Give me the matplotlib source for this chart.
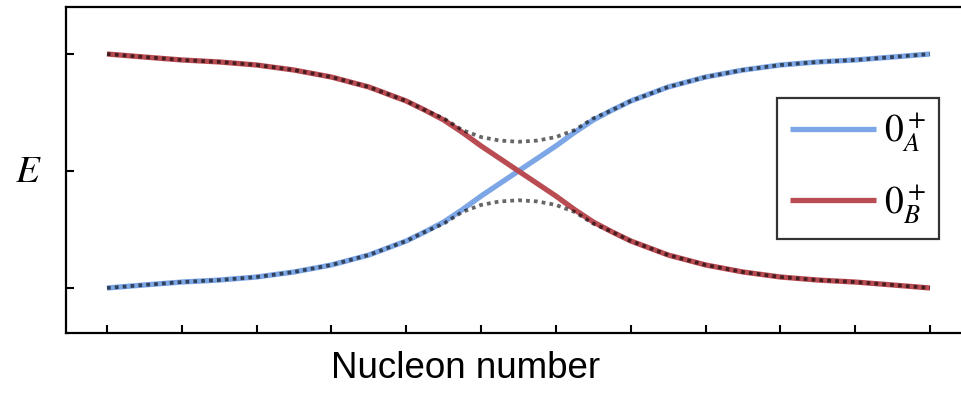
import matplotlib.pyplot as plt
import numpy as np

plt.rcParams["mathtext.fontset"] = "stix"

# nucleon number axis (arbitrary units, one per tick)
nucleon = [0, 0.5, 1, 1.5, 2, 2.5, 3, 3.5, 4, 4.25, 4.5, 4.75, 5, 5.25, 5.5,
           5.75, 6, 6.25, 6.5, 6.75, 7, 7.5, 8, 8.5, 9, 9.5, 10, 10.5, 11]

# diabatic (unmixed) 0+ states
energy_A = [-1.0, -0.974, -0.949, -0.932, -0.906, -0.863, -0.803, -0.718, -0.598,
            -0.52, -0.436, -0.33, -0.214, -0.107, 0.0, 0.107, 0.214, 0.33, 0.436,
            0.52, 0.598, 0.718, 0.803, 0.863, 0.906, 0.932, 0.949, 0.974, 1.0]
energy_B = [1.0, 0.974, 0.949, 0.932, 0.906, 0.863, 0.803, 0.718, 0.598,
            0.52, 0.436, 0.33, 0.214, 0.107, 0.0, -0.107, -0.214, -0.33, -0.436,
            -0.52, -0.598, -0.718, -0.803, -0.863, -0.906, -0.932, -0.949, -0.974, -1.0]

# adiabatic (mixed) states with the avoided crossing
energy_upper = [1.0, 0.974, 0.949, 0.932, 0.906, 0.863, 0.803, 0.718, 0.598,
                0.52, 0.45, 0.35, 0.29, 0.26, 0.25, 0.26, 0.29, 0.35, 0.45,
                0.52, 0.598, 0.718, 0.803, 0.863, 0.906, 0.932, 0.949, 0.974, 1.0]
energy_lower = [-1.0, -0.974, -0.949, -0.932, -0.906, -0.863, -0.803, -0.718, -0.598,
                -0.52, -0.45, -0.35, -0.29, -0.26, -0.25, -0.26, -0.29, -0.35, -0.45,
                -0.52, -0.598, -0.718, -0.803, -0.863, -0.906, -0.932, -0.949, -0.974, -1.0]

BLUE = "#7ca6e6"
RED = "#b94c52"

fig = plt.figure(figsize=(9.61, 3.96), dpi=100)
ax = fig.add_axes([66 / 961, 63 / 396, 910 / 961, 326 / 396])

ax.plot(nucleon, energy_A, color=BLUE, lw=3.8, solid_capstyle="butt", label=r"$0^+_A$")
ax.plot(nucleon, energy_B, color=RED, lw=3.8, solid_capstyle="butt", label=r"$0^+_B$")
for adiabatic in (energy_upper, energy_lower):
    ax.plot(nucleon, adiabatic, color="black", alpha=0.6, lw=2.7, ls=(0, (1, 1.1)))

ax.set_xlim(-0.548, 11 + 46 / 74.8)
ax.set_ylim(-1 - 45 / 117, 1 + 47 / 117)
ax.set_xticks(np.arange(0, 12))
ax.set_yticks([-1, 0, 1])
ax.set_xticklabels([])
ax.set_yticklabels([])
ax.tick_params(direction="in", length=6, width=1.5, color="black")
for s in ax.spines.values():
    s.set_linewidth(1.6)

fig.text(42 / 961, 1 - 171 / 396, r"$E$", fontsize=28, ha="right", va="center")
fig.text(466 / 961, 1 - 368 / 396, "Nucleon number", fontsize=26.5,
         family="Liberation Sans", ha="center", va="center")

leg = ax.legend(loc="upper left", bbox_to_anchor=(777 / 961, 1 - 98 / 396),
                bbox_transform=fig.transFigure, fontsize=27, frameon=True,
                fancybox=False, edgecolor="black", handlelength=2.3,
                handletextpad=0.2, borderpad=0.35, labelspacing=0.75,
                borderaxespad=0)
leg.get_frame().set_linewidth(1.6)

fig.savefig("out.png", dpi=100)
